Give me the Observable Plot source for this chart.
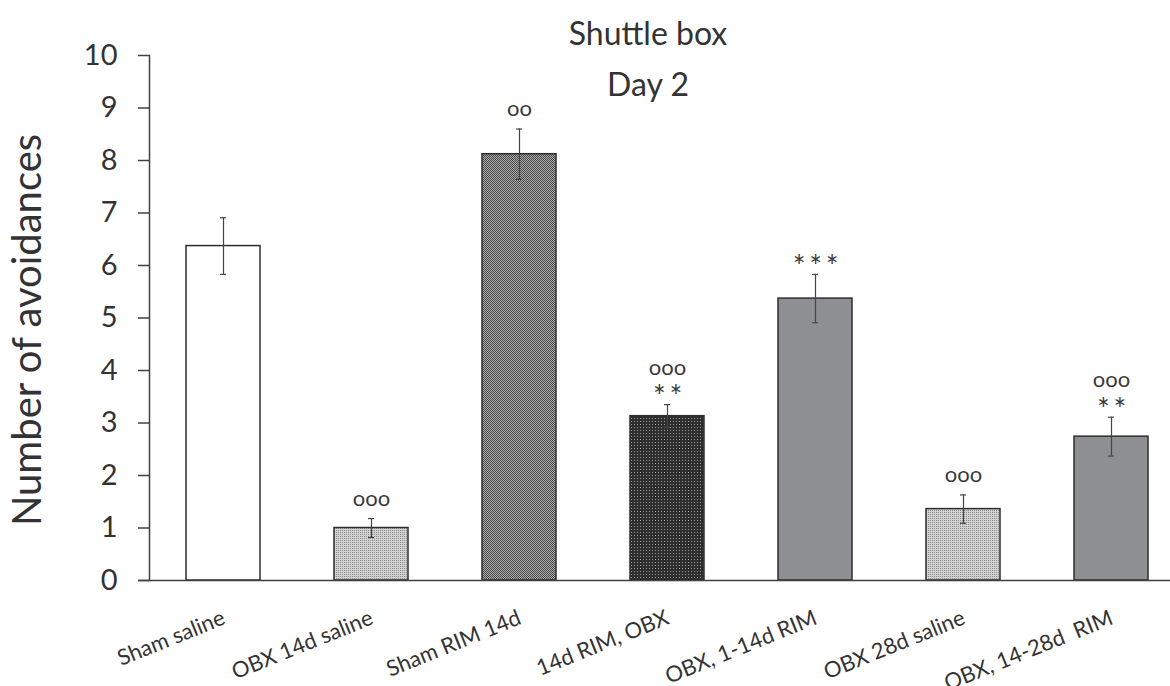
<!DOCTYPE html>
<html>
<head>
<meta charset="utf-8">
<script src="https://cdn.jsdelivr.net/npm/d3@7"></script>
<script src="https://cdn.jsdelivr.net/npm/@observablehq/plot@0.6"></script>
<style>
  html, body { margin: 0; padding: 0; background: #fff; }
  #chart { width: 1170px; height: 686px; overflow: hidden; }
</style>
</head>
<body>
<div id="chart"></div>
<script>
// ---- data ----
const groups = ["Sham saline", "OBX 14d saline", "Sham RIM 14d", "14d RIM, OBX", "OBX, 1-14d RIM", "OBX 28d saline", "OBX, 14-28d  RIM"];
const means = [6.37, 1.0, 8.12, 3.13, 5.37, 1.36, 2.74];
const sems = [0.54, 0.18, 0.48, 0.22, 0.46, 0.27, 0.37];
const circleMarks = ["", "ooo", "oo", "ooo", "", "ooo", "ooo"];
const starMarks = ["", "", "", "**", "***", "", "**"];
const yTicks = [0, 1, 2, 3, 4, 5, 6, 7, 8, 9, 10];
const titleText = "Shuttle box\nDay 2";
const yLabel = "Number of avoidances";

// bar fill styles (patterns defined below)
const fillStyles = ["#ffffff", "url(#pLight)", "url(#pCheck)", "url(#pDark)", "#8e8f93", "url(#pLight)", "#8e8f93"];

const rows = groups.map((g, i) => ({
  group: g, mean: means[i], lo: means[i] - sems[i], hi: means[i] + sems[i],
  circles: circleMarks[i], stars: starMarks[i]
}));

const ink = "#333333";
const chart = Plot.plot({
  width: 1170,
  height: 686,
  marginLeft: 149,
  marginRight: 0,
  marginTop: 55,
  marginBottom: 106,
  style: { fontFamily: "Lato, 'Open Sans', sans-serif", color: ink, background: "#fff" },
  x: { domain: groups, range: [149, 1185], paddingInner: 0.5, paddingOuter: 0.25, axis: null },
  y: { domain: [0, 10] },
  color: { domain: groups, range: fillStyles },
  marks: [
    Plot.barY(rows, { x: "group", y: "mean", fill: "group", stroke: "#2e2e2e", strokeWidth: 1.5 }),
    Plot.ruleX(rows, { x: "group", y1: "lo", y2: "hi", stroke: "#444", strokeWidth: 1.2 }),
    Plot.tickY(rows, { x: "group", y: "hi", stroke: "#444", strokeWidth: 1.2, insetLeft: 34, insetRight: 34 }),
    Plot.tickY(rows, { x: "group", y: "lo", stroke: "#444", strokeWidth: 1.2, insetLeft: 34, insetRight: 34 }),
    // significance markers
    Plot.text(rows.filter(d => d.circles && !d.stars), { x: "group", y: "hi", text: "circles", fontSize: 22, dy: -20, fill: "#3a3a3a" }),
    Plot.text(rows.filter(d => d.circles && d.stars), { x: "group", y: "hi", text: "circles", fontSize: 22, dy: -37, fill: "#3a3a3a" }),
    Plot.text(rows.filter(d => d.stars), { x: "group", y: "hi", text: d => d.stars.split("").join("\u2009"), fontSize: 30, dy: -7, fill: "#3a3a3a" }),
    // axes
    Plot.ruleY([0], { stroke: "#404040", strokeWidth: 1.5, insetLeft: -11 }),
    Plot.frame({ anchor: "left", stroke: "#404040", strokeWidth: 1.5 }),
    Plot.axisY({ ticks: yTicks, tickSize: 11, tickPadding: 21, fontSize: 29, stroke: "#404040", strokeWidth: 1.5, label: null, tickFormat: d => String(d) }),
    Plot.text(groups, { x: d => d, frameAnchor: "bottom", text: d => d, rotate: -22, textAnchor: "end", dx: 3, dy: 43, fontSize: 22, fill: ink }),
    Plot.text([yLabel], { frameAnchor: "left", text: d => d, rotate: -90, textAnchor: "middle", dx: -121, dy: 12, fontSize: 40, fill: ink }),
    Plot.text([titleText], { frameAnchor: "top", text: d => d, dx: -12, dy: -1, fontSize: 32, lineHeight: 1.6, lineAnchor: "middle", fill: ink })
  ]
});

// patterns for textured bars
const svg = d3.select(chart);
const defs = svg.insert("defs", ":first-child");
function pattern(id, size, bg, pixels) {
  const p = defs.append("pattern").attr("id", id).attr("patternUnits", "userSpaceOnUse")
    .attr("width", size).attr("height", size);
  p.append("rect").attr("width", size).attr("height", size).attr("fill", bg);
  for (const [x, y, c] of pixels) p.append("rect").attr("x", x).attr("y", y).attr("width", 1).attr("height", 1).attr("fill", c);
}
pattern("pLight", 2, "#d2d2d2", [[0, 0, "#8a8a8a"]]);
pattern("pCheck", 2, "#b0b0b0", [[0, 0, "#444444"], [1, 1, "#444444"]]);
pattern("pDark", 3, "#2e2e2e", [[1, 1, "#9a9a9a"]]);

document.getElementById("chart").appendChild(chart);
</script>
</body>
</html>
